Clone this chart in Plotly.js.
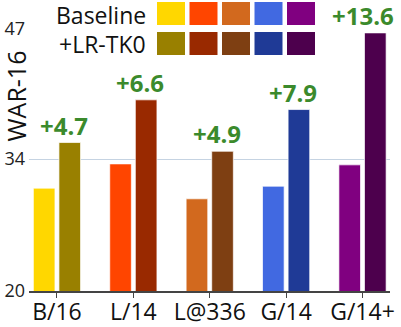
<!DOCTYPE html>
<html>
<head>
<meta charset="utf-8">
<script src="https://cdn.plot.ly/plotly-3.0.1.min.js"></script>
<style>
  html, body { margin: 0; padding: 0; background: #fff; }
  #plot { width: 401px; height: 327px; }
</style>
</head>
<body>
<div id="plot"></div>
<script>
let models = ['B/16', 'L/14', 'L@336', 'G/14', 'G/14+'];
let baseline = [30.6, 33.1, 29.5, 30.8, 33.0];
let withTk0 = [35.3, 39.7, 34.4, 38.7, 46.6];
let yTicks = [20, 33.6, 47];
let yTickText = ['20', '34', '47'];

let baseColors = ['#FFD700', '#FF4500', '#D2691E', '#4169E1', '#800080'];
let tkColors = ['#998000', '#992900', '#7E3F12', '#1F3A96', '#4D004D'];
let green = '#3B8A2C';
let font = 'Open Sans, sans-serif';

// plot box in pixels, used to place the hand-made legend
let L = 29, R = 390, T = 29, B = 291;
let px = v => (v - L) / (R - L);
let py = v => (B - v) / (B - T);

let trace1 = {
  x: models,
  y: baseline,
  name: 'Baseline',
  type: 'bar',
  marker: {color: baseColors, line: {color: 'rgba(255,255,255,0.7)', width: 1}}
};

let trace2 = {
  x: models,
  y: withTk0,
  name: '+LR-TK0',
  type: 'bar',
  marker: {color: tkColors, line: {color: 'rgba(255,255,255,0.7)', width: 1}}
};

let annotations = models.map((m, i) => ({
  x: m, y: withTk0[i], xref: 'x', yref: 'y',
  text: '+' + (withTk0[i] - baseline[i]).toFixed(1),
  showarrow: false, xanchor: 'right', yanchor: 'bottom', xshift: 32, borderpad: 0,
  font: {family: font, size: 24, color: green, weight: 'bold'}
}));

annotations.push(
  {x: px(147), y: py(15), xref: 'paper', yref: 'paper', text: 'Baseline', showarrow: false,
   xanchor: 'right', yanchor: 'middle', borderpad: 0, font: {family: font, size: 23, color: '#111'}},
  {x: px(147), y: py(44), xref: 'paper', yref: 'paper', text: '+LR-TK0', showarrow: false,
   xanchor: 'right', yanchor: 'middle', borderpad: 0, font: {family: font, size: 23, color: '#111'}},
  {x: px(15.5), y: py(96), xref: 'paper', yref: 'paper', text: 'WAR-16', showarrow: false,
   textangle: -90, xanchor: 'center', yanchor: 'middle', borderpad: 0, font: {family: font, size: 25, color: '#111'}}
);

let shapes = [{
  type: 'rect', xref: 'paper', yref: 'paper', layer: 'above',
  x0: px(155), x1: px(318), y0: py(0), y1: py(57),
  fillcolor: '#fff', line: {width: 0}
}];
baseColors.forEach((c, i) => {
  let x0 = 157 + 32.5 * i;
  shapes.push({type: 'rect', xref: 'paper', yref: 'paper', layer: 'above',
    x0: px(x0), x1: px(x0 + 28), y0: py(25), y1: py(2), fillcolor: c, line: {width: 0}});
  shapes.push({type: 'rect', xref: 'paper', yref: 'paper', layer: 'above',
    x0: px(x0), x1: px(x0 + 28), y0: py(55), y1: py(32), fillcolor: tkColors[i], line: {width: 0}});
});

let data = [trace1, trace2];

let layout = {
  width: 401, height: 327,
  margin: {l: L, r: 401 - R, t: T, b: 327 - B, pad: 0},
  paper_bgcolor: '#fff', plot_bgcolor: '#fff',
  showlegend: false,
  barmode: 'group', bargap: 0.33, bargroupgap: 0.155,
  xaxis: {
    type: 'category', range: [-0.366, 4.36], automargin: false,
    showline: true, linecolor: '#444', linewidth: 1.5,
    ticks: 'outside', ticklen: 5, tickcolor: '#444', showgrid: false,
    ticklabelstandoff: -5,
    tickfont: {family: font, size: 23, color: '#111'}
  },
  yaxis: {
    range: [20, 47], automargin: false,
    tickvals: yTicks, ticktext: yTickText,
    showgrid: true, gridcolor: '#c5d3e2', gridwidth: 1, zeroline: false,
    showline: false, ticks: '', ticklabelstandoff: 3,
    tickfont: {family: font, size: 18, color: '#222'}
  },
  annotations: annotations,
  shapes: shapes
};

Plotly.newPlot('plot', data, layout, {displayModeBar: false, staticPlot: true});
</script>
</body>
</html>
